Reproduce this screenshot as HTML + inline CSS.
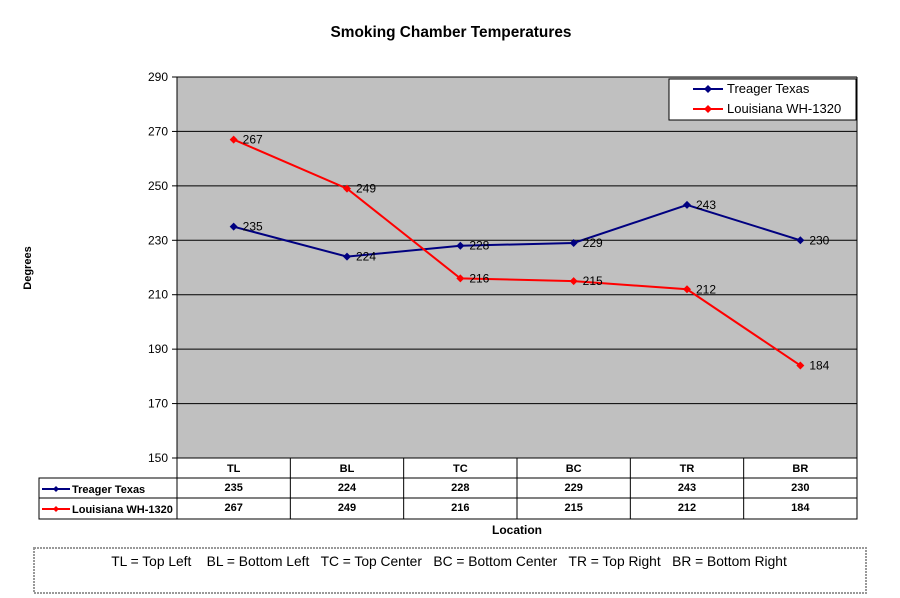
<!DOCTYPE html>
<html><head><meta charset="utf-8"><style>
body{margin:0;background:#fff;}
svg{display:block;font-family:"Liberation Sans",Arial,sans-serif;}
</style></head><body>
<svg id="chart" width="900" height="598" viewBox="0 0 900 598">
<text x="451" y="37" text-anchor="middle" font-size="15.4" font-weight="bold">Smoking Chamber Temperatures</text>
<rect x="177" y="77" width="680" height="381" fill="#c0c0c0"/>
<g id="grid"></g>
<g id="yticks"></g>
<text x="31" y="268" font-size="11" font-weight="bold" text-anchor="middle" transform="rotate(-90 31 268)">Degrees</text>
<g id="series"></g>
<g id="table"></g>
<text x="517" y="534" font-size="12" font-weight="bold" text-anchor="middle">Location</text>
<g>
<rect x="669" y="79" width="187" height="41" fill="#fff" stroke="#000" stroke-width="1"/>
<g><line x1="693" y1="89" x2="723" y2="89" stroke="#000080" stroke-width="2"/><path d="M708 85 L712 89 L708 93 L704 89Z" fill="#000080"/><text x="727" y="93" font-size="13">Treager Texas</text></g>
<g><line x1="693" y1="109" x2="723" y2="109" stroke="#ff0000" stroke-width="2"/><path d="M708 105 L712 109 L708 113 L704 109Z" fill="#ff0000"/><text x="727" y="113" font-size="13">Louisiana WH-1320</text></g>
</g>
<g>
<rect x="34" y="548" width="832" height="45" fill="#fff" stroke="#999" stroke-width="2" stroke-dasharray="2 1"/>
<text x="449" y="566" font-size="13.8" text-anchor="middle" xml:space="preserve">TL = Top Left    BL = Bottom Left   TC = Top Center   BC = Bottom Center   TR = Top Right   BR = Bottom Right</text>
</g>
</svg>
<script>
const categories=["TL","BL","TC","BC","TR","BR"];
const treager=[235,224,228,229,243,230];
const louisiana=[267,249,216,215,212,184];
const yTicks=[150,170,190,210,230,250,270,290];
const NS="http://www.w3.org/2000/svg";
const X0=177,X1=857,Y0=458,Y1=77,YMIN=150,YMAX=290;
const bw=(X1-X0)/categories.length;
const xs=i=>X0+bw*(i+0.5);
const ys=v=>Y0-(v-YMIN)/(YMAX-YMIN)*(Y0-Y1);
function mk(t,a,p){const e=document.createElementNS(NS,t);for(const k in a)e.setAttribute(k,a[k]);p.appendChild(e);return e;}
const grid=document.getElementById('grid'),yt=document.getElementById('yticks');
yTicks.forEach(v=>{
 const y=ys(v);
 if(v>YMIN){const l=mk('line',{x1:X0,x2:X1,y1:y,y2:y,stroke:'#000','stroke-width':1},grid);
 
 }
 mk('line',{x1:X0-5,x2:X0,y1:y,y2:y,stroke:'#000'},yt);
 const t=mk('text',{x:X0-9,y:y+4,'text-anchor':'end','font-size':12},yt);t.textContent=v;
 
 
});
mk('line',{x1:X0,x2:X0,y1:Y1,y2:Y0,stroke:'#000'},yt);
mk('line',{x1:X0,x2:X1,y1:Y1,y2:Y1,stroke:'#000'},yt);
mk('line',{x1:X1,x2:X1,y1:Y1,y2:Y0,stroke:'#000'},yt);
const sg=document.getElementById('series');
[[treager,'#000080','treager'],[louisiana,'#ff0000','louisiana']].forEach(([d,c,n])=>{
 const pl=mk('polyline',{points:d.map((v,i)=>xs(i)+','+ys(v)).join(' '),fill:'none',stroke:c,'stroke-width':2},sg);
 
 
 d.forEach((v,i)=>{const x=xs(i),y=ys(v);
  const p=mk('path',{d:`M${x} ${y-4}L${x+4} ${y}L${x} ${y+4}L${x-4} ${y}Z`,fill:c},sg);
  
  
  const t=mk('text',{x:x+9,y:y+4,'font-size':12},sg);t.textContent=v;
  
  
 });
});
const tb=document.getElementById('table');
const rows=[458,478,498,519];
mk('rect',{x:X0,y:rows[0],width:X1-X0,height:rows[1]-rows[0],fill:'#fff',stroke:'#000'},tb);
mk('rect',{x:39,y:rows[1],width:X1-39,height:rows[3]-rows[1],fill:'#fff',stroke:'#000'},tb);
mk('line',{x1:39,x2:X1,y1:rows[2],y2:rows[2],stroke:'#000'},tb);
mk('line',{x1:X0,x2:X0,y1:rows[0],y2:rows[3],stroke:'#000'},tb);
categories.forEach((c,i)=>{
 if(i>0)mk('line',{x1:X0+bw*i,x2:X0+bw*i,y1:rows[0],y2:rows[3],stroke:'#000'},tb);
 const t=mk('text',{x:xs(i),y:472,'text-anchor':'middle','font-size':11,'font-weight':'bold'},tb);t.textContent=c;
 
 
 const a=mk('text',{x:xs(i),y:491,'text-anchor':'middle','font-size':11,'font-weight':'bold'},tb);a.textContent=treager[i];
 
 
 const b=mk('text',{x:xs(i),y:511,'text-anchor':'middle','font-size':11,'font-weight':'bold'},tb);b.textContent=louisiana[i];
 
 
});
[['Treager Texas','#000080',490],['Louisiana WH-1320','#ff0000',510]].forEach(([n,c,y])=>{
 mk('line',{x1:42,x2:70,y1:y-1,y2:y-1,stroke:c,'stroke-width':2},tb);
 mk('path',{d:`M56 ${y-4}L59 ${y-1}L56 ${y+2}L53 ${y-1}Z`,fill:c},tb);
 const t=mk('text',{x:72,y:y+3,'font-size':11,'font-weight':'bold'},tb);t.textContent=n;
 
 
});
</script>
</body></html>
